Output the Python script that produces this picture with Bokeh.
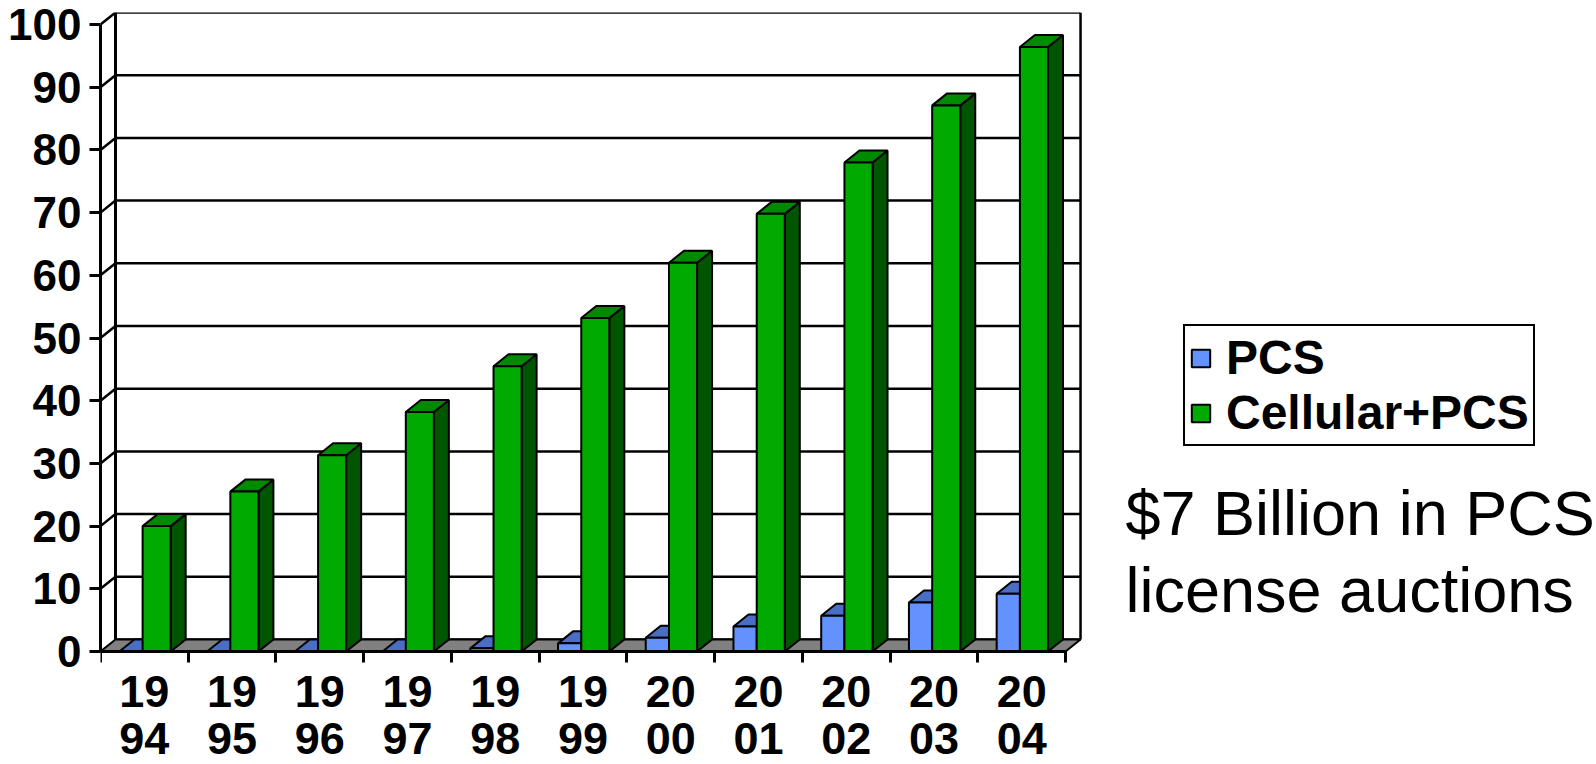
from bokeh.plotting import figure
from bokeh.models import Range1d, FixedTicker, Legend, LegendItem, Label
from bokeh.embed import file_html
from bokeh.resources import INLINE

# ---------------- data ----------------
years = ["1994", "1995", "1996", "1997", "1998", "1999",
         "2000", "2001", "2002", "2003", "2004"]
pcs = [0, 0, 0, 0, 0.5, 1.3, 2.2, 4.0, 5.7, 7.8, 9.2]
cellular_pcs = [20.0, 25.5, 31.3, 38.2, 45.5, 53.2, 62.0, 69.8, 78.0, 87.1, 96.4]
y_ticks = [0, 10, 20, 30, 40, 50, 60, 70, 80, 90, 100]
series_names = ["PCS", "Cellular+PCS"]
note_lines = ["$7 Billion in PCS", "license auctions"]

# ---------------- layout constants (pixels) ----------------
W, H = 1596, 764
LEFT, TOP, BOTTOM_PX = 100, 12, 651
SX = 87.73   # px per category
SY = 6.27    # px per value unit
DEPTH_X_PX, DEPTH_Y_PX = 15, 12
n = len(years)
frame_w = W - LEFT
DX = DEPTH_X_PX / SX
DY = DEPTH_Y_PX / SY
YMAX = y_ticks[-1]

FONT = "Liberation Sans"
BLUE_FRONT, BLUE_TOP, BLUE_SIDE = "#6392FF", "#4A6EC4", "#3A58A0"
GREEN_FRONT, GREEN_TOP, GREEN_SIDE = "#00AA00", "#008A00", "#005500"
FLOOR = "#808080"

p = figure(width=W, height=H,
           x_range=Range1d(0, frame_w / SX),
           y_range=Range1d(-(H - BOTTOM_PX) / SY, (BOTTOM_PX - TOP) / SY),
           min_border_left=LEFT, min_border_right=0, min_border_top=TOP,
           min_border_bottom=0,
           output_backend="svg", toolbar_location=None,
           outline_line_color=None)
p.xgrid.visible = False
p.ygrid.visible = False

# ---------------- back wall, grid and side diagonals ----------------
p.segment(x0=[DX] * len(y_ticks), y0=[v + DY for v in y_ticks],
          x1=[n + DX] * len(y_ticks), y1=[v + DY for v in y_ticks],
          line_color="black", line_width=2.5)
p.segment(x0=[0] * (len(y_ticks) - 1), y0=y_ticks[1:],
          x1=[DX] * (len(y_ticks) - 1), y1=[v + DY for v in y_ticks[1:]],
          line_color="black", line_width=2.5)
p.segment(x0=[DX, n + DX], y0=[DY, DY], x1=[DX, n + DX], y1=[YMAX + DY, YMAX + DY],
          line_color="black", line_width=[3, 2.5])

# floor
p.patch([0, n, n + DX, DX], [0, 0, DY, DY], fill_color=FLOOR,
        line_color="black", line_width=2)


def bar_shapes(values, x0, x1):
    fl, fr, fb, ft = [], [], [], []
    txs, tys, sxs, sys_ = [], [], [], []
    for i, v in enumerate(values):
        a, b = i + x0, i + x1
        fl.append(a); fr.append(b); fb.append(0); ft.append(v)
        txs.append([a, b, b + DX, a + DX]); tys.append([v, v, v + DY, v + DY])
        sxs.append([b, b + DX, b + DX, b]); sys_.append([0, DY, v + DY, v])
    return fl, fr, fb, ft, txs, tys, sxs, sys_


def draw_series(values, x0, x1, cf, ct, cs):
    fl, fr, fb, ft, txs, tys, sxs, sys_ = bar_shapes(values, x0, x1)
    p.patches(sxs, sys_, fill_color=cs, line_color="black", line_width=2)
    p.patches(txs, tys, fill_color=ct, line_color="black", line_width=2)
    return p.quad(left=fl, right=fr, bottom=fb, top=ft, fill_color=cf,
                  line_color="black", line_width=2)


B0, B1, G1 = 0.215, 0.48, 0.80
r_blue = draw_series(pcs, B0, B1, BLUE_FRONT, BLUE_TOP, BLUE_SIDE)
r_green = draw_series(cellular_pcs, B1, G1, GREEN_FRONT, GREEN_TOP, GREEN_SIDE)

# ---------------- axes ----------------
ya = p.yaxis[0]
ya.ticker = FixedTicker(ticks=y_ticks, minor_ticks=[])
ya.bounds = (0, YMAX)
ya.axis_line_width = 3
ya.major_tick_line_width = 3
ya.major_tick_out = 11
ya.major_tick_in = 0
ya.minor_tick_out = 0
ya.minor_tick_in = 0
ya.major_label_standoff = 8
ya.major_label_text_font = FONT
ya.major_label_text_font_style = "bold"
ya.major_label_text_font_size = "44px"
ya.major_label_text_color = "black"

xa = p.xaxis[0]
xa.fixed_location = 0
centers = [i + 0.5 for i in range(n)]
xa.ticker = FixedTicker(ticks=centers, minor_ticks=list(range(n + 1)))
xa.major_label_overrides = {c: y[:2] + "\n" + y[2:] for c, y in zip(centers, years)}
xa.bounds = (0, n)
xa.axis_line_width = 3
xa.major_tick_out = 0
xa.major_tick_in = 0
xa.minor_tick_out = 11
xa.minor_tick_in = 0
xa.minor_tick_line_width = 3
xa.major_label_standoff = 3
xa.major_label_text_font = FONT
xa.major_label_text_font_style = "bold"
xa.major_label_text_font_size = "45px"
xa.major_label_text_line_height = 0.93
xa.major_label_text_color = "black"

# ---------------- legend ----------------
legend = Legend(items=[LegendItem(label=series_names[0], renderers=[r_blue]),
                       LegendItem(label=series_names[1], renderers=[r_green])],
                location=(1183 - LEFT, H - 446),
                border_line_color="black", border_line_width=2, border_line_alpha=1,
                background_fill_color="white", background_fill_alpha=1,
                padding=4, spacing=0, margin=0,
                glyph_width=23, glyph_height=22, label_standoff=14,
                label_height=22,
                label_text_font=FONT, label_text_font_style="bold",
                label_text_font_size="48px", label_text_color="black")
p.add_layout(legend)

# ---------------- note text ----------------
for line, base_px in zip(note_lines, [512, 589]):
    p.add_layout(Label(x=(1125 - LEFT) / SX, y=(BOTTOM_PX - base_px) / SY,
                       text=line, text_font=FONT, text_font_size="63px",
                       text_color="black", text_baseline="alphabetic",
                       text_align="left"))

open("out.html", "w").write(file_html(p, INLINE))
